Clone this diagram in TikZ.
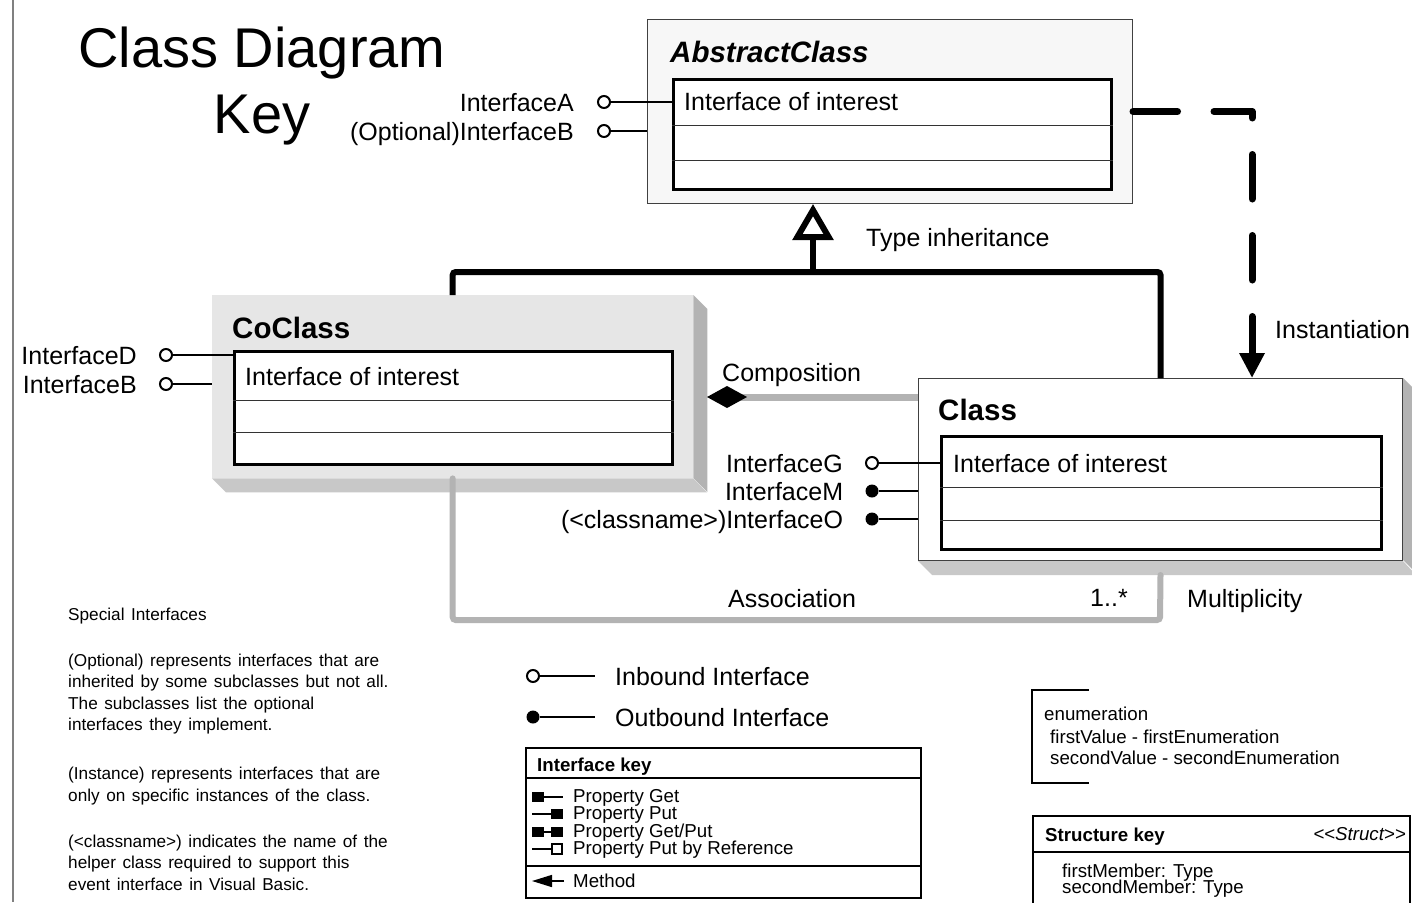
\documentclass[tikz,border=0pt]{standalone}
\usepackage{fontspec}
\setmainfont{Liberation Sans}
\usetikzlibrary{arrows.meta,positioning,calc}
\definecolor{abstractfill}{RGB}{247,247,247}
\definecolor{coclassfill}{RGB}{230,230,230}
\definecolor{shadowdark}{RGB}{179,179,179}
\definecolor{shadowlight}{RGB}{200,200,200}
\definecolor{linkgray}{RGB}{179,179,179}
\definecolor{framegray}{RGB}{128,128,128}
\newcommand\notefont{\fontsize{17.2}{20}\selectfont\spaceskip=0.38em\relax}

\tikzset{
  classbox/.style={inner sep=0pt, anchor=north west},
  ifbox/.style={draw=black, line width=2.5pt, fill=white, inner sep=0pt, anchor=north west},
  divider/.style={black!80, line width=1pt},
  classname/.style={font=\fontsize{29.5}{32}\selectfont\bfseries, inner sep=0pt, anchor=base west},
  member/.style={font=\fontsize{25}{27}\selectfont, inner sep=0pt, anchor=base west},
  iflabel/.style={font=\fontsize{25}{27}\selectfont, inner sep=0pt, text height=18pt, text depth=0pt},
  inport/.style={circle, draw, line width=2pt, fill=white, inner sep=0pt, minimum size=12pt},
  outport/.style={circle, fill=black, inner sep=0pt, minimum size=13pt},
  port/.style={line width=2pt},
  tree/.style={line width=6pt, rounded corners=3pt},
  instline/.style={line width=7pt, dash pattern=on 44.5pt off 36.5pt, line cap=round, line join=round},
  compline/.style={linkgray, line width=7pt},
  assocline/.style={linkgray, line width=6pt, rounded corners=3pt, line cap=round},
  keybox/.style={draw, line width=2pt, inner sep=0pt, anchor=north west},
  keyrule/.style={line width=1.5pt},
  keyhead/.style={font=\fontsize{18.7}{20}\selectfont\bfseries, inner sep=0pt, anchor=base west},
  keytext/.style={font=\fontsize{18.7}{20}\selectfont, inner sep=0pt, anchor=base west},
  note/.style={font=\notefont, inner sep=0pt, anchor=base west}
}

\begin{document}
\begin{tikzpicture}[x=1pt, y=-1pt]
  \fill[white] (0,0) rectangle (1412,902);
  \useasboundingbox (0,0) rectangle (1412,902);
  \draw[framegray, line width=1.5pt] (13,0) -- (13,902);

  % Title
  \node[font=\fontsize{56}{60}\selectfont, inner sep=0pt, anchor=base] (title) at (262,67) {Class Diagram};
  \node[font=\fontsize{56}{60}\selectfont, inner sep=0pt, anchor=base] (key) at (262,133) {Key};

  % AbstractClass
  \node[classbox, draw=black!75, line width=1pt, fill=abstractfill,
        minimum width=485pt, minimum height=184pt] (abstract) at (647,19) {};
  \node[ifbox, minimum width=438pt, minimum height=110pt] (abstract-if) at (672,78) {};
  \foreach \y in {125,160}
    \draw[divider] (abstract-if.west |- 0,\y) -- (abstract-if.east |- 0,\y);
  \node[classname] (abstract-name) at (670,62) {\itshape AbstractClass};
  \node[member] (abstract-member) at (684,110) {Interface of interest};

  \node[inport] (ia) at (604,102) {};
  \node[iflabel, left=23pt of ia] (ia-label) {InterfaceA};
  \draw[port] (ia) -- (ia -| abstract-if.west);
  \node[inport] (ib) at (604,131) {};
  \node[iflabel, left=23pt of ib] (ib-label) {(Optional)InterfaceB};
  \draw[port] (ib) -- (ib -| abstract.west);

  % CoClass
  \node[classbox, fill=coclassfill, minimum width=481pt, minimum height=183pt] (coclass) at (212,295) {};
  \fill[shadowdark] (coclass.north east) -- ++(14,14) -- ++(0,183) -- ++(-14,-14) -- cycle;
  \fill[shadowlight] (coclass.south west) -- ++(14,14) -- ++(481,0) -- (coclass.south east) -- cycle;
  \node[ifbox, minimum width=438pt, minimum height=113pt] (coclass-if) at (233,350) {};
  \foreach \y in {400,432}
    \draw[divider] (coclass-if.west |- 0,\y) -- (coclass-if.east |- 0,\y);
  \node[classname] (coclass-name) at (232,338) {CoClass};
  \node[member] (coclass-member) at (245,385) {Interface of interest};

  \node[inport] (id) at (166,355) {};
  \node[iflabel, left=22pt of id] (id-label) {InterfaceD};
  \draw[port] (id) -- (id -| coclass-if.west);
  \node[inport] (ib2) at (166,384) {};
  \node[iflabel, left=22pt of ib2] (ib2-label) {InterfaceB};
  \draw[port] (ib2) -- (ib2 -| coclass.west);

  % Class
  \node[classbox, draw=black!75, line width=1pt, fill=white,
        minimum width=484pt, minimum height=182pt] (class) at (918,378) {};
  \fill[shadowdark] (class.north east) -- ++(14,14) -- ++(0,182) -- ++(-14,-14) -- cycle;
  \fill[shadowlight] (class.south west) -- ++(14,14) -- ++(484,0) -- (class.south east) -- cycle;
  \node[ifbox, minimum width=440pt, minimum height=113pt] (class-if) at (940,435) {};
  \foreach \y in {487,520}
    \draw[divider] (class-if.west |- 0,\y) -- (class-if.east |- 0,\y);
  \node[classname] (class-name) at (938,420) {Class};
  \node[member] (class-member) at (953,472) {Interface of interest};

  \node[inport] (ig) at (872,463) {};
  \node[iflabel, left=22pt of ig] (ig-label) {InterfaceG};
  \draw[port] (ig) -- (ig -| class-if.west);
  \node[outport] (im) at (872,491) {};
  \node[iflabel, left=22pt of im] (im-label) {InterfaceM};
  \draw[port] (im) -- (im -| class.west);
  \node[outport] (io) at (872,519) {};
  \node[iflabel, left=22pt of io] (io-label) {(<classname>)InterfaceO};
  \draw[port] (io) -- (io -| class.west);

  % Relations
  \coordinate (fork) at (813,272);
  \draw[tree] (coclass.north) |- (fork) -| (class.north);
  \draw[tree, -{Triangle[open, length=36pt, width=40pt]}] (fork) -- (fork |- abstract.south);
  \node[member] (inh-label) at (866,246) {Type inheritance};

  \draw[instline, -{Triangle[length=25pt, width=24pt]}] (abstract.east) -| (class.north -| 1252,0);
  \node[member] (inst-label) at (1275,338) {Instantiation};

  \coordinate (comp) at (707,397);
  \draw[compline, -{Diamond[color=black, length=40pt, width=22pt]}] (class.west |- comp) -- (comp);
  \node[member] (comp-label) at (722,381) {Composition};

  \coordinate (assoc) at (1160,620);
  \draw[assocline] (coclass.south) |- (assoc) -- ($(class.south)+(0,14)$);
  \node[member] (assoc-label) at (728,607) {Association};
  \node[member] (mult) at (1090,606) {1..*};
  \node[member] (mult-label) at (1187,607) {Multiplicity};

  % Legend
  \node[inport] (inbound) at (533,676) {};
  \coordinate (inbound-end) at (595,676);
  \draw[port] (inbound) -- (inbound-end);
  \node[iflabel, right=20pt of inbound-end] (inbound-label) {Inbound Interface};
  \node[outport] (outbound) at (533,717) {};
  \coordinate (outbound-end) at (595,717);
  \draw[port] (outbound) -- (outbound-end);
  \node[iflabel, right=20pt of outbound-end] (outbound-label) {Outbound Interface};

  % Interface key
  \node[keybox, minimum width=395pt, minimum height=150pt] (ikey) at (525,747) {};
  \draw[keyrule] (ikey.west |- 0,778) -- (ikey.east |- 0,778);
  \draw[keyrule] (ikey.west |- 0,866) -- (ikey.east |- 0,866);
  \node[keyhead] (ikey-head) at (537,771) {Interface key};
  \foreach \y/\t in {802/Property Get, 819/Property Put, 837/{Property Get/Put}, 854/Property Put by Reference, 887/Method}
    \node[keytext] at (573,\y) {\t};
  \fill (532,792) rectangle (544,802);
  \draw[keyrule] (544,797) -- (563,797);
  \draw[keyrule] (532,814) -- (551,814);
  \fill (551,809) rectangle (563,819);
  \fill (532,827) rectangle (544,837);
  \draw[keyrule] (544,832) -- (551,832);
  \fill (551,827) rectangle (563,837);
  \draw[keyrule] (532,849) -- (552,849);
  \draw[keyrule, fill=white] (552,844) rectangle (562,854);
  \draw[keyrule, -{Triangle[length=20pt, width=12pt]}] (564,881) -- (532,881);

  % Enumeration
  \draw[keyrule] (1089,690) -| (1032,783) -- (1089,783);
  \node[keytext] (enum) at (1044,720) {enumeration};
  \node[keytext] (enum-first) at (1050,743) {firstValue - firstEnumeration};
  \node[keytext] (enum-second) at (1050,764) {secondValue - secondEnumeration};

  % Structure key
  \draw[line width=2pt] (1033,904) |- (1410,816) -- (1410,904);
  \draw[keyrule] (1033,852) -- (1410,852);
  \node[keyhead] (skey-head) at (1045,841) {Structure key};
  \node[keytext, anchor=base east] (skey-tag) at (1406,840) {\itshape <\kern0pt<Struct>\kern0pt>};
  \node[keytext] (skey-first) at (1062,877) {firstMember: Type};
  \node[keytext] (skey-second) at (1062,893) {secondMember: Type};

  % Special interfaces
  \foreach \y/\t in {620/Special Interfaces,
      666/(Optional) represents interfaces that are,
      687/inherited by some subclasses but not all.,
      709/The subclasses list the optional,
      730/interfaces they implement.,
      779/(Instance) represents interfaces that are,
      801/only on specific instances of the class.,
      847/(<classname>) indicates the name of the,
      868/helper class required to support  this,
      890/event interface in Visual Basic.}
    \node[note] at (68,\y) {\t};
\end{tikzpicture}
\end{document}
